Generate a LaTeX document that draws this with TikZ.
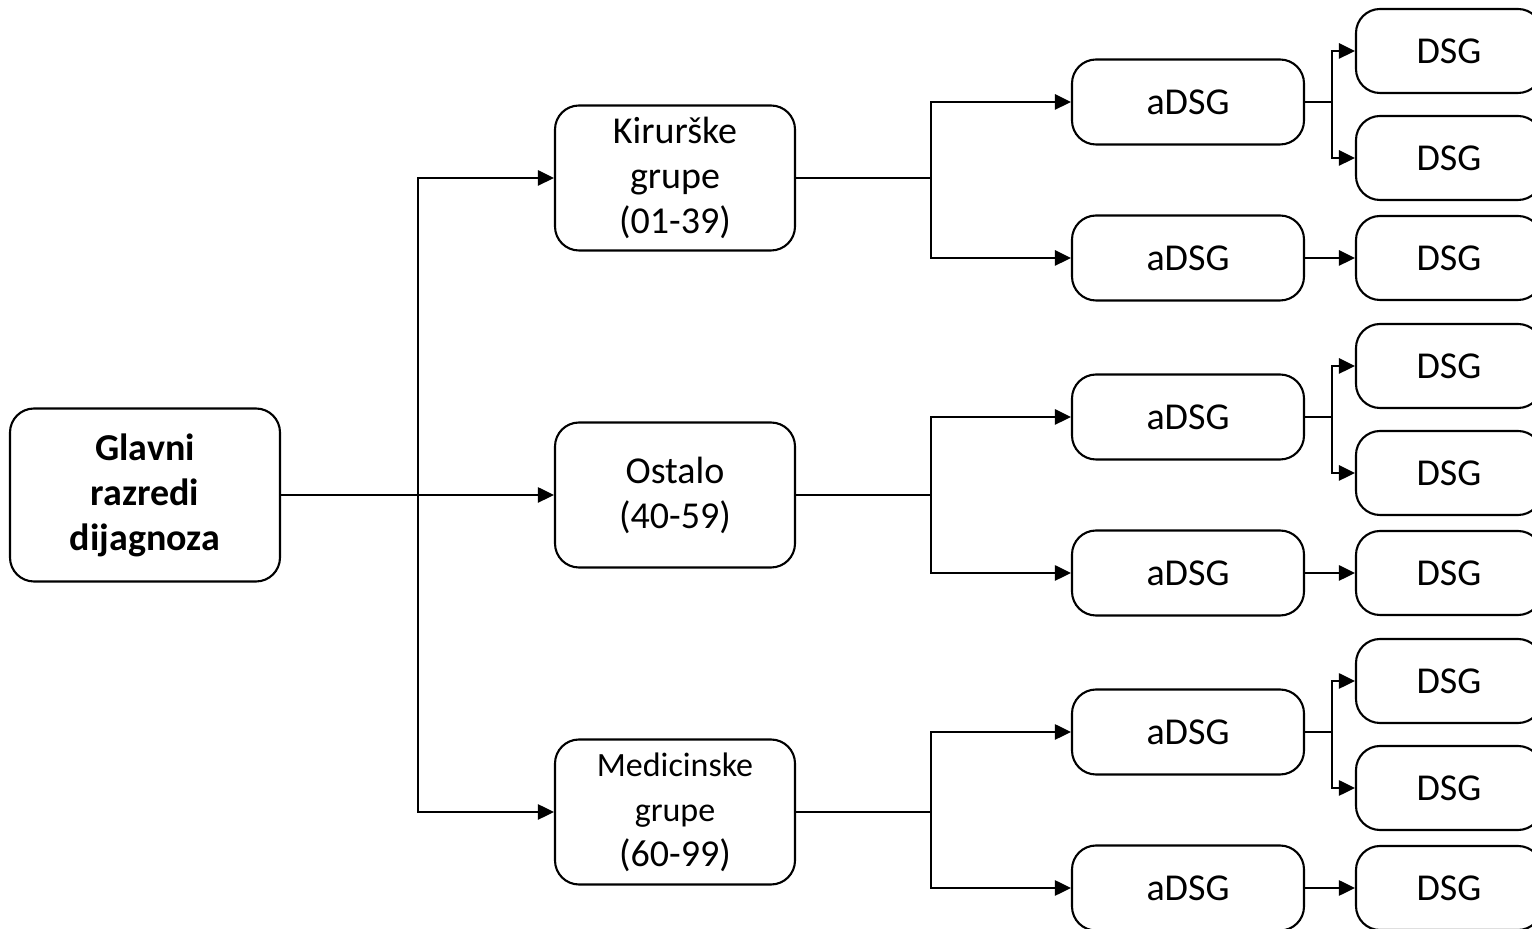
\documentclass[tikz,border=0pt]{standalone}
\usepackage{fontspec}
\setmainfont{Carlito}
\usetikzlibrary{arrows.meta}
\newcommand\manji{\fontsize{17}{20.5}\selectfont}

\begin{document}
\begin{tikzpicture}[x=0.5pt, y=-0.5pt, line width=1.35pt,
		box/.style={draw, line width=1.05pt, rounded corners=12pt, align=center, inner sep=0pt,
			font=\fontsize{19}{22.5}\selectfont},
		glavna/.style={box, minimum width=135pt, minimum height=86.5pt, font=\fontsize{19}{22.5}\selectfont\bfseries},
		grupa/.style={box, minimum width=120pt, minimum height=72.5pt},
		adsg/.style={box, minimum width=116pt, minimum height=42.5pt},
		dsg/.style={box, minimum width=93pt, minimum height=42pt},
		arr/.style={-{Triangle[length=8pt, width=7.5pt]}}]
		\clip (0,0) rectangle (1532,929);
		\node[glavna] (glavni) at (145,495) {Glavni\\razredi\\dijagnoza};
		\node[grupa] (kir) at (675,178) {Kirurške\\grupe\\(01-39)};
		\node[grupa] (ost) at (675,495) {Ostalo\\(40-59)};
		\node[grupa] (med) at (675,812) {{\manji Medicinske}\\{\manji grupe}\\(60-99)};
		\coordinate (grana) at (418,495);
		\draw[arr] (glavni.east) -- (ost.west);
		\draw[arr] (grana) |- (kir.west);
		\draw[arr] (grana) |- (med.west);
		% aDSG i DSG za svaku grupu
		\foreach \g/\y in {kir/180, ost/495, med/810} {
			\node[adsg] (\g-a1) at (1188,\y-78) {aDSG};
			\node[adsg] (\g-a2) at (1188,\y+78) {aDSG};
			\node[dsg] (\g-d1) at (1449,\y-129) {DSG};
			\node[dsg] (\g-d2) at (1449,\y-22) {DSG};
			\node[dsg] (\g-d3) at (1449,\y+78) {DSG};
			\coordinate (\g-f) at (931,\y);
			\coordinate (\g-f2) at (1332,\y-78);
			\draw (\g.east) -- (\g.east -| \g-f);
			\draw[arr] (\g-f) |- (\g-a1.west);
			\draw[arr] (\g-f) |- (\g-a2.west);
			\draw (\g-a1.east) -- (\g-f2);
			\draw[arr] (\g-f2) |- (\g-d1.west);
			\draw[arr] (\g-f2) |- (\g-d2.west);
			\draw[arr] (\g-a2.east) -- (\g-d3.west);
		}
	\end{tikzpicture}
\end{document}
